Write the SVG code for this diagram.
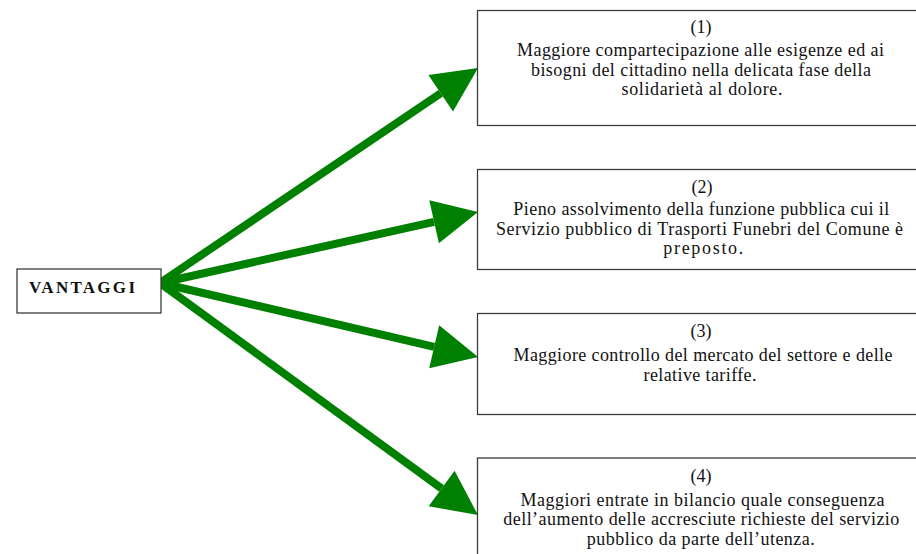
<svg xmlns="http://www.w3.org/2000/svg" width="916" height="554" viewBox="0 0 916 554">
  <style>
    .box { fill: #ffffff; stroke: #3c3c3c; stroke-width: 1.3; }
    .txt { font-family: "Liberation Serif", "Times New Roman", serif; font-size: 18px; fill: #111111; text-anchor: middle; }
    .head { font-family: "Liberation Serif", "Times New Roman", serif; font-size: 17px; font-weight: bold; fill: #111111; }
    .arrow { stroke: #008000; stroke-width: 8; fill: none; marker-end: url(#head); }
  </style>
  <defs>
    <marker id="head" viewBox="0 0 45 44" refX="0" refY="22" markerWidth="45" markerHeight="44" markerUnits="userSpaceOnUse" orient="auto" overflow="visible">
      <path d="M0,0 L45,22 L0,44 Z" fill="#008000"/>
    </marker>
  </defs>
  <rect width="916" height="554" fill="#ffffff"/>

  <g id="connectors">
    <line class="arrow" x1="160" y1="283" x2="440.7" y2="93.2"/>
    <line class="arrow" x1="160" y1="283" x2="434.1" y2="221.8"/>
    <line class="arrow" x1="160" y1="283" x2="434.2" y2="346.8"/>
    <line class="arrow" x1="160" y1="283" x2="441.6" y2="488.5"/>
  </g>

  <g id="vantaggi">
    <rect class="box" x="17" y="269" width="144" height="44"/>
    <text class="head" x="29" y="293" textLength="106" lengthAdjust="spacing">VANTAGGI</text>
  </g>

  <g id="vantaggio-1">
    <rect class="box" x="477.5" y="10.5" width="460" height="115"/>
    <text class="txt" x="701" y="33">(1)</text>
    <text class="txt" x="700.5" y="56" textLength="367" lengthAdjust="spacing">Maggiore compartecipazione alle esigenze ed ai</text>
    <text class="txt" x="701" y="75.5" textLength="340" lengthAdjust="spacing">bisogni del cittadino nella delicata fase della</text>
    <text class="txt" x="702" y="95" textLength="161" lengthAdjust="spacing">solidarietà al dolore.</text>
  </g>

  <g id="vantaggio-2">
    <rect class="box" x="477.5" y="169.5" width="460" height="100"/>
    <text class="txt" x="702" y="193">(2)</text>
    <text class="txt" x="701.3" y="215" textLength="376" lengthAdjust="spacing">Pieno assolvimento della funzione pubblica cui il</text>
    <text class="txt" x="699.5" y="235" textLength="407" lengthAdjust="spacing">Servizio pubblico di Trasporti Funebri del Comune è</text>
    <text class="txt" x="703.3" y="254" textLength="80" lengthAdjust="spacing">preposto.</text>
  </g>

  <g id="vantaggio-3">
    <rect class="box" x="477.5" y="313.5" width="460" height="101"/>
    <text class="txt" x="701" y="337">(3)</text>
    <text class="txt" x="703" y="361" textLength="379" lengthAdjust="spacing">Maggiore controllo del mercato del settore e delle</text>
    <text class="txt" x="700" y="380.5" textLength="113" lengthAdjust="spacing">relative tariffe.</text>
  </g>

  <g id="vantaggio-4">
    <rect class="box" x="477.5" y="458" width="460" height="120"/>
    <text class="txt" x="701" y="482">(4)</text>
    <text class="txt" x="702.5" y="505.5" textLength="364" lengthAdjust="spacing">Maggiori entrate in bilancio quale conseguenza</text>
    <text class="txt" x="701.3" y="525" textLength="396" lengthAdjust="spacing">dell’aumento delle accresciute richieste del servizio</text>
    <text class="txt" x="700.8" y="544.5" textLength="228" lengthAdjust="spacing">pubblico da parte dell’utenza.</text>
  </g>
</svg>
